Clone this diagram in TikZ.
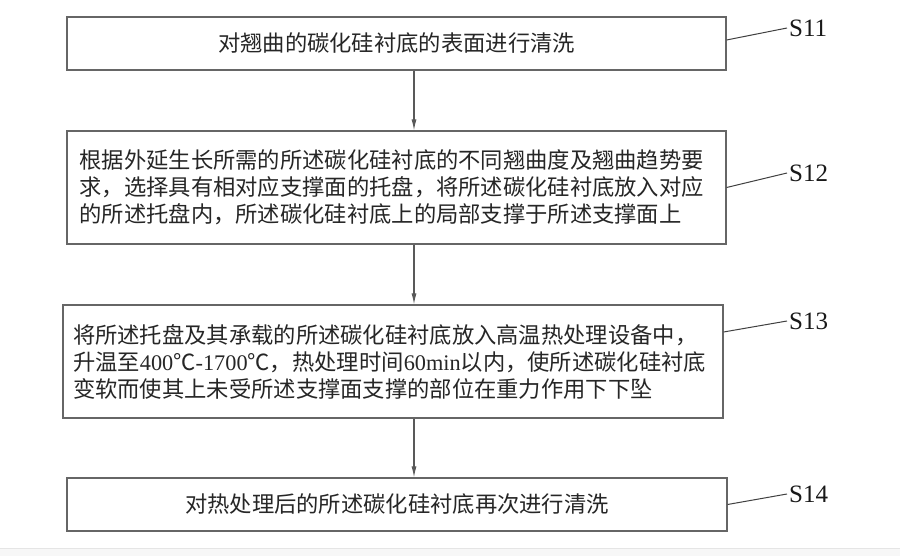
\documentclass[tikz,border=0pt]{standalone}
\usepackage{fontspec}
\newfontfamily\cjk{Noto Sans CJK SC}
\newfontfamily\tms{Liberation Serif}
\usetikzlibrary{arrows.meta}
\tikzset{
  stepbox/.style={draw=black!60, line width=1.2pt, minimum width=659pt, minimum height=53pt,
    font=\cjk\fontsize{22.3}{27}\selectfont, text=black!85},
  wide/.style={minimum height=113pt, text width=634pt, align=left},
  flow/.style={draw=black!65, line width=1.1pt, -{Latex[length=11pt,width=5pt]}},
  lead/.style={draw=black!75, line width=1pt},
  tag/.style={font=\tms\fontsize{25}{25}\selectfont, anchor=west, inner sep=2pt, text=black!90}
}
\begin{document}
\begin{tikzpicture}[x=1pt,y=-1pt]
  \useasboundingbox (0,0) rectangle (900,556);
  \fill[white] (0,0) rectangle (900,556);
  \fill[black!3] (0,548) rectangle (900,556);
  \draw[black!10] (0,548) -- (900,548);

  \node[stepbox] (step1) at (396.5,43.5) {对翘曲的碳化硅衬底的表面进行清洗};
  \node[stepbox, wide] (step2) at (396.5,187.5) {根据外延生长所需的所述碳化硅衬底的不同翘曲度及翘曲趋势要\\求，选择具有相对应支撑面的托盘，将所述碳化硅衬底放入对应\\的所述托盘内，所述碳化硅衬底上的局部支撑于所述支撑面上};
  \node[stepbox, wide, minimum width=660pt, text width=640pt] (step3) at (393,361.5) {将所述托盘及其承载的所述碳化硅衬底放入高温热处理设备中，\\升温至{\tms 400}℃{\tms -1700}℃，热处理时间{\tms 60min}以内，使所述碳化硅衬底\\变软而使其上未受所述支撑面支撑的部位在重力作用下下坠};
  \node[stepbox, minimum width=660pt] (step4) at (397,504.5) {对热处理后的所述碳化硅衬底再次进行清洗};

  \coordinate (axis) at (414,0);
  \draw[flow] (step1.south -| axis) -- (step2.north -| axis);
  \draw[flow] (step2.south -| axis) -- (step3.north -| axis);
  \draw[flow] (step3.south -| axis) -- (step4.north -| axis);

  \node[tag] (t1) at (787,28) {S11};
  \node[tag] (t2) at (787,173) {S12};
  \node[tag] (t3) at (787,321) {S13};
  \node[tag] (t4) at (787,494) {S14};

  \draw[lead] ([yshift=3.5pt]step1.east) -- (t1.west);
  \draw[lead] (step2.east) -- (t2.west);
  \draw[lead] ([yshift=29.5pt]step3.east) -- (t3.west);
  \draw[lead] (step4.east) -- (t4.west);
\end{tikzpicture}
\end{document}
